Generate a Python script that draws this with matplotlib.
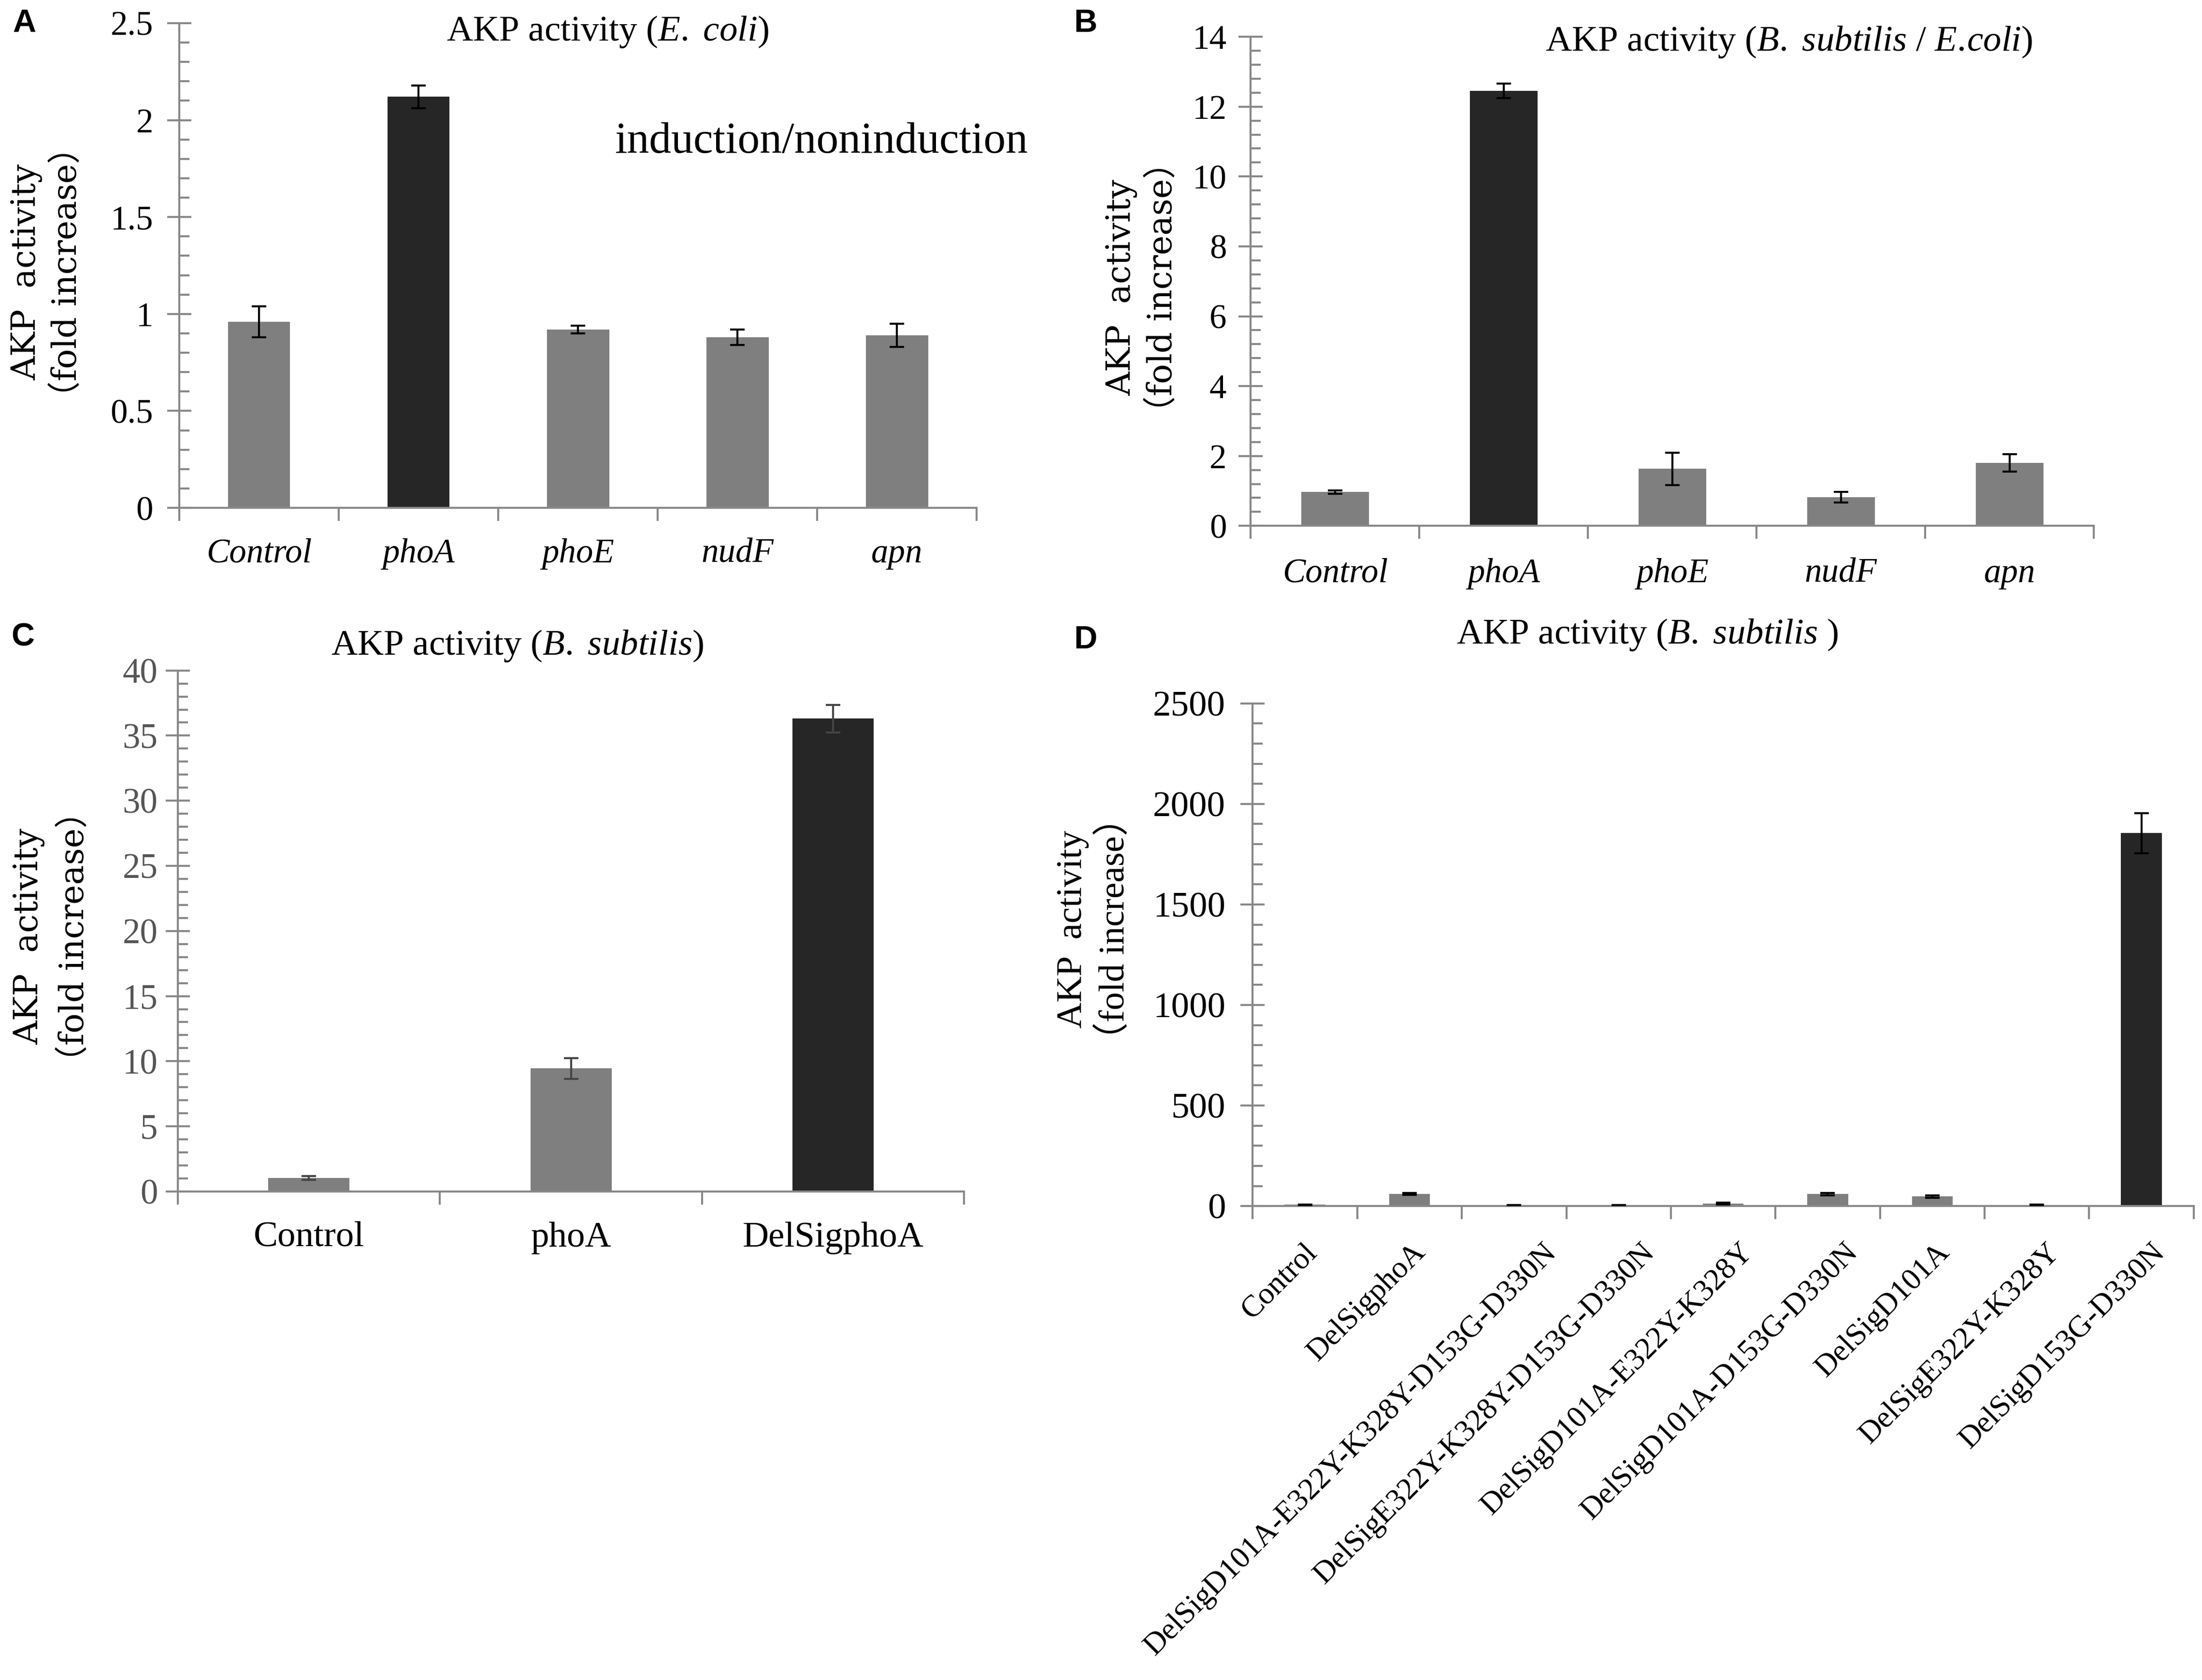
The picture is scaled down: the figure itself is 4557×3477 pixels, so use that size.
import matplotlib
matplotlib.use("Agg")
import matplotlib.pyplot as plt
from matplotlib.ticker import MultipleLocator, FixedLocator, NullFormatter
from matplotlib.transforms import offset_copy

plt.rcParams['font.family'] = ['Liberation Serif', 'Noto Sans CJK SC']
plt.rcParams['mathtext.fontset'] = 'custom'
plt.rcParams['mathtext.rm'] = 'Liberation Serif'
plt.rcParams['mathtext.it'] = 'Liberation Serif:italic'

# panel A: E. coli, induction/noninduction
a_cats = ['Control', 'phoA', 'phoE', 'nudF', 'apn']
a_vals = [0.96, 2.12, 0.92, 0.88, 0.89]
a_err = [0.08, 0.058, 0.02, 0.04, 0.06]

# panel B: B. subtilis / E. coli
b_cats = ['Control', 'phoA', 'phoE', 'nudF', 'apn']
b_vals = [0.97, 12.45, 1.63, 0.82, 1.80]
b_err = [0.05, 0.21, 0.46, 0.15, 0.25]

# panel C: B. subtilis
c_cats = ['Control', 'phoA', 'DelSigphoA']
c_vals = [1.05, 9.45, 36.3]
c_err = [0.15, 0.8, 1.05]

# panel D: B. subtilis mutants
d_cats = ['Control', 'DelSigphoA', 'DelSigD101A-E322Y-K328Y-D153G-D330N',
          'DelSigE322Y-K328Y-D153G-D330N', 'DelSigD101A-E322Y-K328Y',
          'DelSigD101A-D153G-D330N', 'DelSigD101A', 'DelSigE322Y-K328Y',
          'DelSigD153G-D330N']
d_vals = [7, 61, 5, 5, 12, 60, 48, 6, 1855]
d_err = [1, 5, 1, 1, 4, 6, 6, 1, 100]

GRAY = '#7f7f7f'
DARK = '#262626'
SPINE = '#888888'

fig = plt.figure(figsize=(4557 / 300, 3477 / 300), dpi=300)
renderer = fig.canvas.get_renderer()


def panel(rect, cats, vals, err, dark_idx, ymax, major, width, ecol='black',
          tick_fs=17, tick_col='black', ypad=8, xfs=17, xstyle='normal', xpad=15):
    ax = fig.add_axes(rect)
    x = list(range(len(cats)))
    colors = [DARK if i == dark_idx else GRAY for i in x]
    ax.bar(x, vals, width=width, color=colors, zorder=2)
    ax.errorbar(x, vals, yerr=err, fmt='none', ecolor=ecol, elinewidth=1.0,
                capsize=3.5, capthick=1.0, zorder=3)
    ax.set_xlim(-0.5, len(cats) - 0.5)
    ax.set_ylim(0, ymax)
    for s in ['top', 'right']:
        ax.spines[s].set_visible(False)
    for s in ['left', 'bottom']:
        ax.spines[s].set_color(SPINE)
        ax.spines[s].set_linewidth(1.0)
    ax.yaxis.set_major_locator(MultipleLocator(major))
    ax.yaxis.set_minor_locator(MultipleLocator(major / 5))
    ax.tick_params(axis='y', which='major', direction='inout', length=12,
                   width=1.0, color=SPINE, labelsize=tick_fs, labelcolor=tick_col, pad=ypad)
    ax.tick_params(axis='y', which='minor', direction='in', length=5,
                   width=1.0, color=SPINE)
    # boundaries as major ticks, names on minor ticks
    ax.xaxis.set_major_locator(FixedLocator([i - 0.5 for i in range(len(cats) + 1)]))
    ax.xaxis.set_major_formatter(NullFormatter())
    ax.xaxis.set_minor_locator(FixedLocator(x))
    ax.set_xticklabels(cats, minor=True, fontsize=xfs, fontstyle=xstyle)
    ax.tick_params(axis='x', which='major', direction='out', length=6.5,
                   width=1.0, color=SPINE)
    ax.tick_params(axis='x', which='minor', length=0, pad=xpad)
    return ax


def ylabel2(x1, x2, y, fs, fam):
    fig.text(x1, y, 'AKP  activity', rotation=90, ha='center', va='center',
             fontsize=fs, family=[fam, 'Noto Sans CJK SC'])
    fig.text(x2, y, '\uff08fold increase\uff09', rotation=90, ha='center', va='center',
             fontsize=fs, family=[fam, 'Noto Sans CJK SC'])


axA = panel([0.0814, 0.6977, 0.3622, 0.2885], a_cats, a_vals, a_err, 1,
            2.5, 0.5, 0.39, xstyle='italic', ypad=7)
axA.yaxis.set_major_formatter(plt.FuncFormatter(lambda v, p: f'{v:g}'))
axB = panel([0.5680, 0.6870, 0.3829, 0.2911], b_cats, b_vals, b_err, 1,
            14, 2, 0.40, xstyle='italic', ypad=6, xpad=16)
axC = panel([0.0808, 0.2908, 0.3570, 0.3101], c_cats, c_vals, c_err, 2,
            40, 5, 0.31, ecol='#444444', tick_fs=17.5, tick_col='#555555', ypad=4,
            xfs=18, xpad=15)
axD = panel([0.5689, 0.2821, 0.4273, 0.2992], d_cats, d_vals, d_err, 8,
            2500, 500, 0.39, tick_fs=18, ypad=7.5, xfs=15.3, xpad=21)
for lab in axD.get_xticklabels(minor=True):
    lab.set_rotation(45)
    lab.set_ha('right')
    lab.set_va('center')
    lab.set_rotation_mode('anchor')
    # longer names sit a little further right, as in the original
    w = lab.get_window_extent(renderer).width * 72 / fig.dpi
    lab.set_transform(offset_copy(lab.get_transform(), fig=fig, x=0.09 * w, units='points'))

# titles
fig.text(0.276, 0.981, r'AKP activity ($\it{E.\ coli}$)', ha='center', va='center', fontsize=18)
fig.text(0.8125, 0.975, r'AKP activity ($\it{B.\ subtilis}$ / $\it{E.\!coli}$)',
         ha='center', va='center', fontsize=18)
fig.text(0.235, 0.6155, r'AKP activity ($\it{B.\ subtilis}$)', ha='center', va='center', fontsize=18)
fig.text(0.748, 0.6222, r'AKP activity ($\it{B.\ subtilis}$ )', ha='center', va='center', fontsize=18)
fig.text(0.373, 0.9156, 'induction/noninduction', ha='center', va='center', fontsize=22)

# y labels
ylabel2(0.0121, 0.0305, 0.838, 16.5, 'DejaVu Serif')
ylabel2(0.5094, 0.5280, 0.829, 16.5, 'DejaVu Serif')
ylabel2(0.0132, 0.0338, 0.4425, 16.5, 'DejaVu Serif')
ylabel2(0.4872, 0.5061, 0.447, 18, 'Liberation Serif')

# panel letters
for (xx, yy, t) in [(0.011, 0.986, 'A'), (0.493, 0.986, 'B'),
                    (0.0103, 0.6206, 'C'), (0.493, 0.619, 'D')]:
    fig.text(xx, yy, t, ha='center', va='center', fontsize=16,
             fontweight='bold', family='Liberation Sans')

fig.savefig('out.png', dpi=300)
